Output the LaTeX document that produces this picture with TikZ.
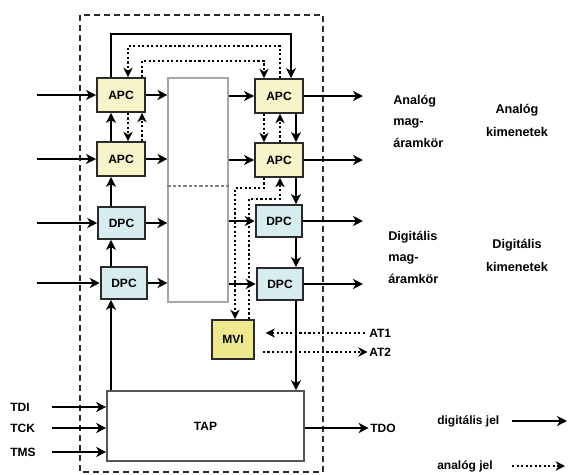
\documentclass[tikz,border=0pt]{standalone}
\usepackage{fontspec}
\setmainfont{Liberation Sans}
\usetikzlibrary{arrows.meta}
\definecolor{apcfill}{HTML}{F7F4C9}
\definecolor{dpcfill}{HTML}{D6ECEF}
\definecolor{mvifill}{HTML}{EEE88C}
\definecolor{boxline}{HTML}{2B2B2B}
\definecolor{tapline}{HTML}{555555}
\begin{document}
\begin{tikzpicture}[x=0.75pt,y=-0.75pt,
  box/.style={draw=boxline, line width=1.4pt, inner sep=0pt, font=\bfseries\fontsize{9}{10}\selectfont},
  apcbox/.style={box, fill=apcfill, minimum width=36pt, minimum height=25.5pt},
  dpcbox/.style={box, fill=dpcfill, minimum width=35pt, minimum height=24pt},
  sig/.style={draw=black, line width=1.9pt, -{Stealth[length=7.5pt,width=7.5pt,inset=2.2pt]}},
  ana/.style={draw=black, line width=1.6pt, dash pattern=on 1.6pt off 1.8pt, -{Stealth[length=7pt,width=7pt,inset=2.2pt]}},
  lbl/.style={font=\bfseries\fontsize{9}{10}\selectfont, inner sep=0pt},
  side/.style={font=\bfseries\fontsize{9.5}{16}\selectfont, inner sep=0pt, align=left},
  sidec/.style={font=\bfseries\fontsize{9.5}{17.25}\selectfont, inner sep=0pt, align=center}
]
\useasboundingbox (0,0) rectangle (569,475);

% outer dashed frame
\draw[draw=boxline, line width=1.5pt, dash pattern=on 4.5pt off 3pt] (80,15) rectangle (323,472);

% centre block
\node[draw=gray!70, line width=0.8pt, minimum width=45pt, minimum height=168pt, inner sep=0pt] (C) at (198,190) {};
\draw[gray, line width=0.8pt, dash pattern=on 2.5pt off 1.5pt] ([yshift=3pt]C.west) -- ([yshift=3pt]C.east);

% boxes
\node[apcbox] (LA1) at (121,95) {APC};
\node[apcbox] (LA2) at (121,159) {APC};
\node[dpcbox] (LD1) at (121.5,223) {DPC};
\node[dpcbox] (LD2) at (124,283) {DPC};
\node[apcbox] (RA1) at (279,96) {APC};
\node[apcbox] (RA2) at (279,160) {APC};
\node[dpcbox] (RD1) at (279,221) {DPC};
\node[dpcbox] (RD2) at (280,284) {DPC};
\node[box, fill=mvifill, minimum width=31.5pt, minimum height=29.25pt] (MVI) at (233,339.5) {MVI};
\node[draw=tapline, line width=1.2pt, fill=white, minimum width=147.75pt, minimum height=52.5pt, inner sep=0pt, font=\bfseries\fontsize{9}{10}\selectfont] (TAP) at (205.5,426) {TAP};

% column / row helper coordinates
\coordinate (xa) at (111,0);
\coordinate (xb) at (128,0);
\coordinate (xc) at (142,0);
\coordinate (xs) at (291,0);
\coordinate (xr0) at (264,0);
\coordinate (xr1) at (280,0);
\coordinate (xr2) at (296,0);
\coordinate (xm1) at (235,0);
\coordinate (xm2) at (249,0);
\coordinate (ys) at (0,34);
\coordinate (yd1) at (0,46);
\coordinate (yd2) at (0,61);
\coordinate (ya) at (0,188);
\coordinate (yb) at (0,199);
\coordinate (xin) at (37,0);
\coordinate (xout) at (363,0);
\coordinate (xt) at (52,0);

% left column
\draw[sig] (TAP.north -| xa) -- (LD2.south -| xa);
\draw[sig] (LD2.north -| xa) -- (LD1.south -| xa);
\draw[sig] (LD1.north -| xa) -- (LA2.south -| xa);
\draw[sig] (LA2.north -| xa) -- (LA1.south -| xa);
\draw[ana] (LA1.south -| xb) -- (LA2.north -| xb);
\draw[ana] (LA2.north -| xc) -- (LA1.south -| xc);

% top loops
\draw[sig] (LA1.north -| xa) -- (xa |- ys) -- (xs |- ys) -- (RA1.north -| xs);
\draw[ana] (RA1.north -| xr1) -- (xr1 |- yd1) -- (xb |- yd1) -- (LA1.north -| xb);
\draw[ana] (LA1.north -| xc) -- (xc |- yd2) -- (xr0 |- yd2) -- (RA1.north -| xr0);

% right column
\draw[ana] (RA1.south -| xr0) -- (RA2.north -| xr0);
\draw[ana] (RA2.north -| xr1) -- (RA1.south -| xr1);
\draw[sig] (RA1.south -| xr2) -- (RA2.north -| xr2);
\draw[sig] (RA2.south -| xr2) -- (RD1.north -| xr2);
\draw[sig] (RD1.south -| xr2) -- (RD2.north -| xr2);
\draw[sig] (RD2.south -| xr2) -- (TAP.north -| xr2);

% MVI loop
\draw[ana] (RA2.south -| xr0) -- (xr0 |- ya) -- (xm1 |- ya) -- (MVI.north -| xm1);
\draw[ana] (MVI.north -| xm2) -- (xm2 |- yb) -- (xr1 |- yb) -- (RA2.south -| xr1);

% inputs
\draw[sig] (xin |- LA1) -- (LA1.west);
\draw[sig] (xin |- LA2) -- (LA2.west);
\draw[sig] (xin |- LD1) -- (LD1.west);
\draw[sig] (xin |- LD2) -- (LD2.west);

% to / from centre block
\draw[sig] (LA1.east) -- (C.west |- LA1);
\draw[sig] (LA2.east) -- (C.west |- LA2);
\draw[sig] (LD1.east) -- (C.west |- LD1);
\draw[sig] (LD2.east) -- (C.west |- LD2);
\draw[sig] (C.east |- RA1) -- (RA1.west);
\draw[sig] (C.east |- RA2) -- (RA2.west);
\draw[sig] (C.east |- RD1) -- (RD1.west);
\draw[sig] (C.east |- RD2) -- (RD2.west);

% outputs
\draw[sig] (RA1.east) -- (xout |- RA1);
\draw[sig] (RA2.east) -- (xout |- RA2);
\draw[sig] (RD1.east) -- (xout |- RD1);
\draw[sig] (RD2.east) -- (xout |- RD2);

% side texts
\node[side, anchor=north west] (AM) at (393,95) {Analóg\\mag-\\áramkör};
\node[side, anchor=north west] (DM) at (388,231) {Digitális\\mag-\\áramkör};
\node[sidec, anchor=north] (AK) at (517,104) {Analóg\\kimenetek};
\node[sidec, anchor=north] (DK) at (517,239) {Digitális\\kimenetek};

% AT1 / AT2
\node[lbl, anchor=west] (AT1) at (369,333) {AT1};
\node[lbl, anchor=west] (AT2) at (369,352) {AT2};
\draw[ana, shorten >=8pt, shorten <=3pt] (AT1.west) -- (MVI.east |- AT1);
\draw[ana, shorten <=6pt, shorten >=1pt] (MVI.east |- AT2) -- (AT2.west);

% TAP ports
\node[lbl, anchor=west] (TDI) at (10,407) {TDI};
\node[lbl, anchor=west] (TCK) at (10,428) {TCK};
\node[lbl, anchor=west] (TMS) at (10,452) {TMS};
\draw[sig] (xt |- TDI) -- (TAP.west |- TDI);
\draw[sig] (xt |- TCK) -- (TAP.west |- TCK);
\draw[sig] (xt |- TMS) -- (TAP.west |- TMS);
\node[lbl, anchor=west] (TDO) at (370,428) {TDO};
\draw[sig, shorten >=1pt] (TAP.east |- TDO) -- (TDO.west);

% legend
\node[lbl, anchor=west] (LGD) at (437,421) {digitális jel};
\node[lbl, anchor=west] (LGA) at (437,466) {analóg jel};
\coordinate (lgx0) at (512,0);
\coordinate (lgx1) at (567,0);
\coordinate (lgx2) at (565,0);
\draw[sig] (lgx0 |- LGD) -- (lgx1 |- LGD);
\draw[ana] (lgx0 |- LGA) -- (lgx2 |- LGA);
\end{tikzpicture}
\end{document}
